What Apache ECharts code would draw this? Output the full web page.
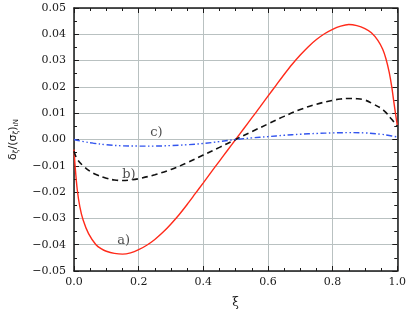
<!DOCTYPE html>
<html>
<head>
<meta charset="utf-8">
<script src="https://cdn.jsdelivr.net/npm/echarts@6/dist/echarts.min.js"></script>
<style>html,body{margin:0;padding:0;background:#fff}#c{width:409px;height:314px}</style>
</head>
<body>
<div id="c"></div>
<script>
// ξ, value pairs
const seriesA = [[0,-0.0038],[0.004,-0.011],[0.01,-0.019],[0.018,-0.0255],[0.028,-0.0305],[0.045,-0.0358],[0.068,-0.0400],[0.085,-0.0416],[0.1,-0.0425],[0.125,-0.0433],[0.15,-0.0436],[0.175,-0.0431],[0.2,-0.0419],[0.225,-0.0402],[0.25,-0.0380],[0.275,-0.0353],[0.3,-0.0321],[0.325,-0.0286],[0.35,-0.0247],[0.375,-0.0206],[0.4,-0.0165],[0.425,-0.0123],[0.45,-0.0082],[0.475,-0.0041],[0.5,0],[0.525,0.0041],[0.55,0.0082],[0.575,0.0123],[0.6,0.0165],[0.625,0.0206],[0.65,0.0247],[0.675,0.0286],[0.7,0.0321],[0.725,0.0353],[0.75,0.0380],[0.775,0.0402],[0.8,0.0419],[0.825,0.0431],[0.85,0.0437],[0.875,0.0433],[0.9,0.0422],[0.92,0.0406],[0.94,0.0377],[0.955,0.0343],[0.965,0.0307],[0.975,0.0256],[0.983,0.020],[0.99,0.0138],[0.995,0.0095],[1.0,0.0055]];
const seriesB = [[0,-0.0045],[0.01,-0.0075],[0.03,-0.0102],[0.05,-0.0121],[0.07,-0.0134],[0.1,-0.0147],[0.125,-0.0154],[0.15,-0.0156],[0.175,-0.0154],[0.2,-0.0149],[0.25,-0.0134],[0.3,-0.0114],[0.35,-0.0088],[0.4,-0.0059],[0.45,-0.0030],[0.5,0],[0.55,0.0030],[0.6,0.0059],[0.65,0.0088],[0.7,0.0114],[0.75,0.0134],[0.8,0.0149],[0.825,0.0154],[0.85,0.0156],[0.875,0.0155],[0.9,0.0150],[0.924,0.0136],[0.957,0.0112],[0.982,0.0078],[1.0,0.005]];
const seriesC = [[0,0],[0.03,-0.0008],[0.06,-0.0014],[0.1,-0.002],[0.15,-0.0024],[0.2,-0.0025],[0.25,-0.0025],[0.3,-0.0023],[0.35,-0.0020],[0.4,-0.0015],[0.45,-0.0008],[0.5,0],[0.55,0.0006],[0.6,0.0011],[0.65,0.0016],[0.7,0.002],[0.75,0.0023],[0.8,0.0025],[0.85,0.0026],[0.9,0.0025],[0.95,0.002],[0.975,0.0015],[1.0,0.001]];
const curveLabels = ['a)','b)','c)'];
const curveLabelPos = [[0.154,-0.0383],[0.17,-0.0134],[0.255,0.0026]];
const xTicks = {min:0, max:1, interval:0.2};
const yTicks = {min:-0.05, max:0.05, interval:0.01};

const chart = echarts.init(document.getElementById('c'), null, {renderer:'canvas'});
const axisLine = {show:true, onZero:false, lineStyle:{color:'#1a1a1a', width:1.5}};
const tickFont = {fontFamily:'DejaVu Serif', fontSize:11, color:'#1a1a1a'};
function yFmt(v){ if (Math.abs(v) < 1e-9) return '0.00'; return (v<0?'\u2212':'') + Math.abs(v).toFixed(2); }
const tick = {show:true, inside:true, length:5, lineStyle:{color:'#1a1a1a', width:1}};
chart.setOption({
  animation:false,
  grid:{left:69, right:10, top:8, bottom:42},
  xAxis:[{
    type:'value', min:xTicks.min, max:xTicks.max, interval:xTicks.interval, position:'bottom',
    axisLine:axisLine, axisTick:tick,
    minorTick:{show:true, splitNumber:4, length:3, lineStyle:{color:'#1a1a1a', width:1}},
    axisLabel:Object.assign({margin:6, formatter:v=>v.toFixed(1)}, tickFont),
    splitLine:{show:true, lineStyle:{color:'#b9c1c1', width:1}},
    name:'ξ', nameLocation:'middle', nameGap:26,
    nameTextStyle:{fontFamily:'DejaVu Serif', fontSize:12, color:'#1a1a1a'}
  },{
    type:'value', min:xTicks.min, max:xTicks.max, interval:xTicks.interval, position:'top',
    axisLine:axisLine, axisTick:tick,
    minorTick:{show:true, splitNumber:4, length:3, lineStyle:{color:'#1a1a1a', width:1}},
    axisLabel:{show:false}, splitLine:{show:false}
  }],
  yAxis:[{
    type:'value', min:yTicks.min, max:yTicks.max, interval:yTicks.interval, position:'left',
    axisLine:axisLine, axisTick:tick,
    minorTick:{show:true, splitNumber:2, length:3, lineStyle:{color:'#1a1a1a', width:1}},
    axisLabel:Object.assign({margin:8, formatter:yFmt}, tickFont),
    splitLine:{show:true, lineStyle:{color:'#b9c1c1', width:1}},
    name:'{a|δ}{s|ζ}{a|/(σ}{s|ζ}{a|)}{s|ιN}', nameLocation:'middle', nameGap:54, nameRotate:90,
    nameTextStyle:{color:'#1a1a1a', rich:{
      a:{fontFamily:'DejaVu Sans', fontSize:11, color:'#1a1a1a'},
      s:{fontFamily:'DejaVu Sans', fontSize:7, color:'#1a1a1a', verticalAlign:'bottom', padding:[6,0,0,0]}
    }}
  },{
    type:'value', min:yTicks.min, max:yTicks.max, interval:yTicks.interval, position:'right',
    axisLine:axisLine, axisTick:tick,
    minorTick:{show:true, splitNumber:2, length:3, lineStyle:{color:'#1a1a1a', width:1}},
    axisLabel:{show:false}, splitLine:{show:false}
  }],
  series:[
    {type:'line', data:seriesA, smooth:0.3, showSymbol:false, lineStyle:{color:'#ff2a1a', width:1.4}, z:3},
    {type:'line', data:seriesB, smooth:0.4, showSymbol:false, lineStyle:{color:'#111', width:1.6, type:[6,4]}, z:4},
    {type:'line', data:seriesC, smooth:0.4, showSymbol:false, lineStyle:{color:'#3355ee', width:1.4, type:[6,2.5,1.5,2.5,1.5,2.5]}, z:5},
    {type:'scatter', symbolSize:0, data:curveLabelPos.map((p,i)=>({value:p, name:curveLabels[i]})),
     label:{show:true, position:'inside', formatter:p=>p.name, fontFamily:'DejaVu Serif', fontSize:13, color:'#1a1a1a'}, z:6, silent:true}
  ]
});
</script>
</body>
</html>
